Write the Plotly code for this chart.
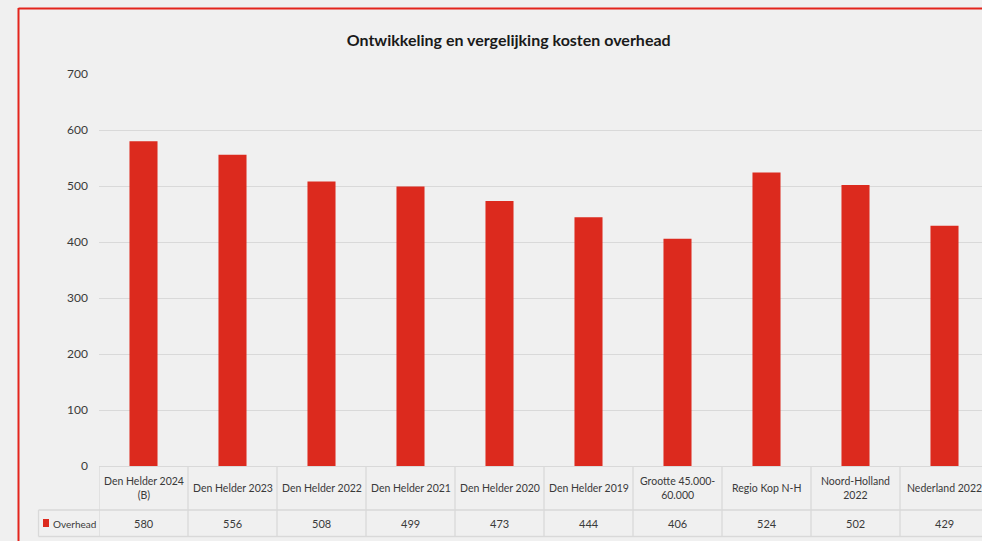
import plotly.graph_objects as go

# ---- data ----
categories = ["Den Helder 2024<br>(B)", "Den Helder 2023", "Den Helder 2022", "Den Helder 2021",
              "Den Helder 2020", "Den Helder 2019", "Grootte 45.000-<br>60.000", "Regio Kop N-H",
              "Noord-Holland<br>2022", "Nederland 2022"]
overhead = [580, 556, 508, 499, 473, 444, 406, 524, 502, 429]
series_name = "Overhead"
y_ticks = [0, 100, 200, 300, 400, 500, 600, 700]
title = "Ontwikkeling en vergelijking kosten overhead"

# ---- layout geometry (pixels) ----
W, H = 982, 541
L, R, T, B = 99, 982, 74, 466
PW, PH = R - L, B - T
col_w = 89.0
n = len(categories)
x_max = -0.5 + PW / col_w

def px(xp):
    return (xp - L) / PW

def py(yp):
    return (B - yp) / PH

BAR = "#dc2a1e"
GRID = "#d9d9d9"
TXT = "#3a3a3a"
FONT = "Lato"

fig = go.Figure()
fig.add_trace(go.Bar(x=list(range(n)), y=overhead, marker=dict(color=BAR, line=dict(width=0)),
                     width=0.315, name=series_name, showlegend=False, hoverinfo="y"))

shapes = []
# red frame
shapes.append(dict(type="line", xref="paper", yref="paper", x0=px(18.5), x1=px(990), y0=py(8.5), y1=py(8.5),
                   line=dict(color="#e3251c", width=2)))
shapes.append(dict(type="line", xref="paper", yref="paper", x0=px(18.5), x1=px(18.5), y0=py(8), y1=py(545),
                   line=dict(color="#e3251c", width=2)))
# table lines
tl = dict(color=GRID, width=1.3)
shapes.append(dict(type="line", xref="paper", yref="paper", x0=px(38.5), x1=px(990), y0=py(510), y1=py(510), line=tl))
shapes.append(dict(type="line", xref="paper", yref="paper", x0=px(38.5), x1=px(990), y0=py(536.5), y1=py(536.5), line=tl))
shapes.append(dict(type="line", xref="paper", yref="paper", x0=px(38.5), x1=px(38.5), y0=py(510), y1=py(536.5), line=tl))
for i in range(n + 1):
    xb = i - 0.5
    shapes.append(dict(type="line", xref="x", yref="paper", x0=xb, x1=xb, y0=py(466), y1=py(536.5), line=tl))
# legend key
shapes.append(dict(type="rect", xref="paper", yref="paper", x0=px(43), x1=px(49), y0=py(519), y1=py(527),
                   fillcolor=BAR, line=dict(width=0)))

annotations = []
for i, (c, v) in enumerate(zip(categories, overhead)):
    annotations.append(dict(x=i, y=py(488), xref="x", yref="paper", text=c, showarrow=False,
                            font=dict(family=FONT, size=10.5, color=TXT), align="center", yanchor="middle"))
    annotations.append(dict(x=i, y=py(523.5), xref="x", yref="paper", text=str(v), showarrow=False,
                            font=dict(family=FONT, size=11, color=TXT), yanchor="middle"))
annotations.append(dict(x=px(51), y=py(523.5), xref="paper", yref="paper", text=series_name, showarrow=False,
                        xanchor="left", yanchor="middle", font=dict(family=FONT, size=10, color=TXT)))

fig.update_layout(
    width=W, height=H,
    margin=dict(l=L, r=W - R, t=T, b=H - B, pad=0),
    paper_bgcolor="#f0f0f0", plot_bgcolor="#f0f0f0",
    title=dict(text="<b>" + title + "</b>", x=0.518, xanchor="center", y=1 - 40 / H, yanchor="middle",
               font=dict(family=FONT, size=16, color="#1a1a1a")),
    xaxis=dict(range=[-0.5, x_max], showticklabels=False, showgrid=False, zeroline=False,
               showline=False, ticks="", fixedrange=True),
    yaxis=dict(range=[0, 700], tickvals=y_ticks, showgrid=True, gridcolor=GRID, gridwidth=1.3,
               zeroline=True, zerolinecolor=GRID, zerolinewidth=1.3, showline=False,
               ticklabelstandoff=10, tickfont=dict(family=FONT, size=12, color=TXT), fixedrange=True),
    shapes=shapes, annotations=annotations, bargap=0.68, showlegend=False,
)

fig.write_html("out.html", config={"displayModeBar": False},
               post_script="document.body.style.margin='0';document.body.style.overflow='hidden';"
                           "document.body.style.background='#f0f0f0';")
